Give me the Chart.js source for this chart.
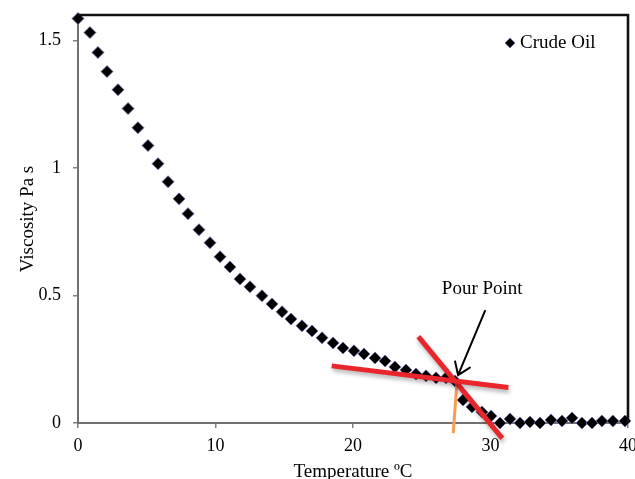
<!DOCTYPE html>
<html><head><meta charset="utf-8">
<script src="https://cdn.jsdelivr.net/npm/chart.js@4.4.1/dist/chart.umd.min.js"></script>
<style>html,body{margin:0;padding:0;background:#fff;overflow:hidden}canvas{display:block}</style>
</head><body>
<canvas id="c" width="650" height="490"></canvas>
<script>
// ---- data ----
const temperature = [0, 0.87, 1.45, 2.11, 2.91, 3.64, 4.36, 5.09, 5.82, 6.55, 7.35, 8.0, 8.8, 9.6, 10.33, 11.05, 11.78, 12.51, 13.38, 14.11, 14.84, 15.49, 16.29, 17.02, 17.75, 18.55, 19.27, 20.07, 20.8, 21.6, 22.33, 23.05, 23.85, 24.58, 25.31, 26.04, 26.76, 27.42, 28.0, 28.65, 29.38, 30.04, 30.69, 31.42, 32.15, 32.87, 33.6, 34.4, 35.2, 35.93, 36.65, 37.38, 38.1, 38.9, 39.78];
const viscosity = [1.586, 1.531, 1.453, 1.378, 1.307, 1.233, 1.158, 1.088, 1.017, 0.946, 0.879, 0.821, 0.758, 0.707, 0.652, 0.612, 0.565, 0.534, 0.499, 0.467, 0.436, 0.408, 0.381, 0.361, 0.334, 0.314, 0.294, 0.283, 0.271, 0.255, 0.243, 0.220, 0.208, 0.192, 0.185, 0.177, 0.177, 0.165, 0.090, 0.063, 0.043, 0.027, 0.0, 0.016, 0.0, 0.004, 0.0, 0.012, 0.008, 0.020, 0.0, 0.0, 0.008, 0.008, 0.008];
const seriesLabel = 'Crude Oil';
const xTicks = [0, 10, 20, 30, 40];
const xTickLabels = ['0', '10', '20', '30', '40'];
const yTicks = [0, 0.5, 1, 1.5];
const yTickLabels = ['0', '0.5', '1', '1.5'];
const xTitle = 'Temperature ºC';
const yTitle = 'Viscosity Pa s';
// annotation lines (data coordinates)
const tangentFlatX = [18.45, 31.3];
const tangentFlatY = [0.224, 0.139];
const tangentSteepX = [24.75, 30.86];
const tangentSteepY = [0.339, -0.060];
const pourDropX = [27.56, 27.29];
const pourDropY = [0.16, -0.04];
const arrowX = [29.6, 27.64];
const arrowY = [0.44, 0.188];
const pourLabel = 'Pour Point';
const pourLabelPos = [29.4, 0.526];

const FONT = "'Liberation Serif', 'Times New Roman', serif";
const pts = (xs, ys) => xs.map((x, i) => ({x, y: ys[i]}));

const shadowPlugin = {
  id: 'shadow',
  beforeDatasetDraw(chart, args) {
    const ds = chart.data.datasets[args.index];
    if (ds.shadow) {
      const ctx = chart.ctx;
      ctx.save();
      ctx.shadowColor = 'rgba(0,0,0,0.3)';
      ctx.shadowBlur = 4;
      ctx.shadowOffsetY = 3;
      ctx.shadowOffsetX = 1;
    }
  },
  afterDatasetDraw(chart, args) {
    const ds = chart.data.datasets[args.index];
    if (ds.shadow) chart.ctx.restore();
  }
};

const extrasPlugin = {
  id: 'extras',
  afterDraw(chart) {
    const {ctx, chartArea: a, scales: {x, y}} = chart;
    ctx.save();
    // top and right frame
    ctx.strokeStyle = '#111';
    ctx.lineWidth = 2.6;
    ctx.beginPath();
    ctx.moveTo(a.left, a.top);
    ctx.lineTo(a.right, a.top);
    ctx.lineTo(a.right, a.bottom);
    ctx.stroke();
    // legend
    const lx = a.right - 118, ly = a.top + 28;
    ctx.fillStyle = '#000';
    ctx.strokeStyle = 'rgba(120,100,170,0.8)';
    ctx.lineWidth = 1;
    ctx.beginPath();
    ctx.moveTo(lx, ly - 5); ctx.lineTo(lx + 5, ly); ctx.lineTo(lx, ly + 5); ctx.lineTo(lx - 5, ly); ctx.closePath();
    ctx.fill(); ctx.stroke();
    ctx.font = '19px ' + FONT;
    ctx.textBaseline = 'middle';
    ctx.textAlign = 'left';
    ctx.fillText(seriesLabel, lx + 10, ly);
    // pour point label
    ctx.textAlign = 'center';
    ctx.fillText(pourLabel, x.getPixelForValue(pourLabelPos[0]), y.getPixelForValue(pourLabelPos[1]));
    // arrow
    const x0 = x.getPixelForValue(arrowX[0]), y0 = y.getPixelForValue(arrowY[0]);
    const x1 = x.getPixelForValue(arrowX[1]), y1 = y.getPixelForValue(arrowY[1]);
    ctx.strokeStyle = '#000';
    ctx.lineWidth = 2;
    ctx.lineCap = 'round';
    ctx.beginPath();
    ctx.moveTo(x0, y0); ctx.lineTo(x1, y1);
    const ang = Math.atan2(y0 - y1, x0 - x1);
    const L = 14, h = 35 * Math.PI / 180;
    ctx.moveTo(x1 + L * Math.cos(ang - h), y1 + L * Math.sin(ang - h));
    ctx.lineTo(x1, y1);
    ctx.lineTo(x1 + L * Math.cos(ang + h), y1 + L * Math.sin(ang + h));
    ctx.stroke();
    ctx.restore();
  }
};

new Chart(document.getElementById('c'), {
  type: 'scatter',
  data: {
    datasets: [
      {label: 'tangent-flat', type: 'line', data: pts(tangentFlatX, tangentFlatY), borderColor: '#e9262b', borderWidth: 5, pointRadius: 0, clip: false, order: 1, shadow: true},
      {label: 'tangent-steep', type: 'line', data: pts(tangentSteepX, tangentSteepY), borderColor: '#e9262b', borderWidth: 5, pointRadius: 0, clip: false, order: 1, shadow: true},
      {label: 'pour-drop', type: 'line', data: pts(pourDropX, pourDropY), borderColor: '#f59d52', borderWidth: 3, pointRadius: 0, clip: false, order: 2},
      {label: seriesLabel, data: pts(temperature, viscosity), pointStyle: 'rectRot', pointRadius: 6, backgroundColor: '#000', borderColor: 'rgba(120,100,170,0.75)', borderWidth: 1, clip: false, order: 3}
    ]
  },
  options: {
    responsive: false,
    animation: false,
    devicePixelRatio: 1,
    layout: {padding: {left: 0, top: 15, right: 22, bottom: 0}},
    plugins: {legend: {display: false}, tooltip: {enabled: false}},
    scales: {
      x: {
        type: 'linear', min: 0, max: 40,
        afterBuildTicks: s => { s.ticks = xTicks.map(v => ({value: v})); },
        afterFit: s => { s.height = 67; s.paddingLeft = 0; s.paddingRight = 0; },
        border: {display: true, color: '#707070', width: 2},
        grid: {drawOnChartArea: false, drawTicks: true, tickLength: 5, color: '#808080', lineWidth: 1.5},
        ticks: {padding: 7, maxRotation: 0, color: '#000', font: {family: FONT, size: 18}, callback: (v, i) => xTickLabels[i]},
        title: {display: true, text: xTitle, color: '#000', font: {family: FONT, size: 19}, padding: {top: 0, bottom: 7}}
      },
      y: {
        type: 'linear', min: 0, max: 1.6,
        afterBuildTicks: s => { s.ticks = yTicks.map(v => ({value: v})); },
        afterFit: s => { s.width = 78; s.paddingTop = 0; s.paddingBottom = 0; },
        border: {display: true, color: '#707070', width: 2},
        grid: {drawOnChartArea: false, drawTicks: true, tickLength: 5, color: '#808080', lineWidth: 1.5},
        ticks: {padding: 12, color: '#000', font: {family: FONT, size: 18}, callback: (v, i) => yTickLabels[i]},
        title: {display: true, text: yTitle, color: '#000', font: {family: FONT, size: 19}, padding: {top: 17, bottom: 0}}
      }
    }
  },
  plugins: [shadowPlugin, extrasPlugin]
});
</script>
</body></html>
